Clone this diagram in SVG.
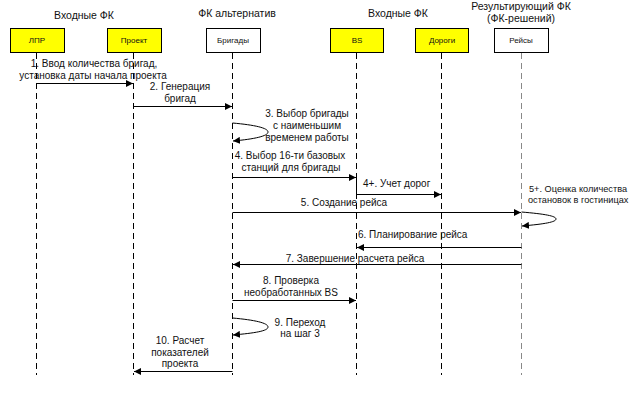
<svg xmlns="http://www.w3.org/2000/svg" width="642" height="394" viewBox="0 0 642 394">
<style>
text{font-family:"Liberation Sans",Arial,sans-serif;fill:#111}
.h{font-size:10.5px;text-anchor:middle}
.b{font-size:8px;text-anchor:middle}
.m{font-size:10px}
.s{font-size:9.2px}
.c{text-anchor:middle}
.box{stroke:#000;stroke-width:1}
.y{fill:#ffff00}
.w{fill:#fff}
.life{stroke:#000;stroke-width:1;stroke-dasharray:6 4;fill:none}
.lg{stroke:#888}
.msg{stroke:#000;stroke-width:1;fill:none;marker-end:url(#ah)}
</style>
<defs>
<marker id="ah" viewBox="0 0 10 10" refX="10" refY="5" markerWidth="7" markerHeight="7" markerUnits="userSpaceOnUse" orient="auto">
<path d="M0,0 L10,5 L0,10 z" fill="#000"/>
</marker>
</defs>
<rect width="642" height="394" fill="#fff"/>
<g id="headers">
<text class="h" x="84" y="19">Входные ФК</text>
<text class="h" x="237" y="17">ФК альтернатив</text>
<text class="h" x="398" y="17">Входные ФК</text>
<text class="h" x="521" y="10">Результирующий ФК</text>
<text class="h" x="521" y="22">(ФК-решений)</text>
</g>
<g id="lpr">
<rect class="box y" x="10.5" y="28.5" width="54" height="24"/>
<text class="b" x="37" y="43">ЛПР</text>
<line class="life" x1="36.5" y1="53" x2="36.5" y2="375"/>
</g>
<g id="proekt">
<rect class="box y" x="107.5" y="28.5" width="54" height="24"/>
<text class="b" x="134" y="43">Проект</text>
<line class="life" x1="133.5" y1="53" x2="133.5" y2="375"/>
</g>
<g id="brigady">
<rect class="box w" x="206.5" y="28.5" width="54" height="24"/>
<text class="b" x="233" y="43">Бригады</text>
<line class="life" x1="232.5" y1="53" x2="232.5" y2="375"/>
</g>
<g id="bs">
<rect class="box y" x="330.5" y="28.5" width="53" height="24"/>
<text class="b" x="357" y="43">BS</text>
<line class="life" x1="356.5" y1="53" x2="356.5" y2="375"/>
</g>
<g id="dorogi">
<rect class="box y" x="415.5" y="28.5" width="53" height="24"/>
<text class="b" x="442" y="43">Дороги</text>
<line class="life" x1="441.5" y1="53" x2="441.5" y2="375"/>
</g>
<g id="reisy">
<rect class="box w" x="494.5" y="28.5" width="54" height="24"/>
<text class="b" x="521" y="43">Рейсы</text>
<line class="life lg" x1="521.5" y1="53" x2="521.5" y2="375"/>
</g>
<g id="connectors">
<path class="msg" d="M36.5,83.5 H133"/>
<path class="msg" d="M133.5,106.5 H232"/>
<path class="msg" d="M232.5,123 C255,125 268,128 268,132 C268,136 255,139 233,141"/>
<path class="msg" d="M232.5,177.5 H356"/>
<path class="msg" d="M356.5,177.5 V194.5 H441"/>
<path class="msg" d="M232.5,212.5 H521"/>
<path class="msg" d="M521.5,212 C545,214 556,216 556,219 C556,222 545,224 522,226"/>
<path class="msg" d="M521.5,247.5 H357"/>
<path class="msg" d="M521.5,264.5 H233"/>
<path class="msg" d="M232.5,300.5 H356"/>
<path class="msg" d="M232.5,318 C255,320 268,323 268,327 C268,331 255,333 233,335"/>
<path class="msg" d="M232.5,371.5 H134"/>
</g>
<g id="labels" class="m">
<text class="c" x="94" y="67">1. Ввод количества бригад,</text>
<text class="c" x="93" y="79">установка даты начала проекта</text>
<text class="c" x="180" y="90">2. Генерация</text>
<text class="c" x="180" y="102">бригад</text>
<text class="c" x="307" y="117">3. Выбор бригады</text>
<text class="c" x="307" y="129">с наименьшим</text>
<text class="c" x="307" y="141">временем работы</text>
<text class="c" x="290" y="159">4. Выбор 16-ти базовых</text>
<text class="c" x="291" y="171">станций для бригады</text>
<text x="363" y="187">4+. Учет дорог</text>
<text class="c" x="344" y="206">5. Создание рейса</text>
<text class="s" x="529" y="192">5+. Оценка количества</text>
<text class="s" x="528" y="203">остановок в гостиницах</text>
<text x="358" y="238">6. Планирование рейса</text>
<text class="c" x="355" y="262">7. Завершение расчета рейса</text>
<text class="c" x="291" y="284">8. Проверка</text>
<text class="c" x="291" y="296">необработанных BS</text>
<text class="c" x="300" y="326">9. Переход</text>
<text class="c" x="300" y="337">на шаг 3</text>
<text class="c" x="180" y="344">10. Расчет</text>
<text class="c" x="180" y="356">показателей</text>
<text class="c" x="180" y="367">проекта</text>
</g>
</svg>
